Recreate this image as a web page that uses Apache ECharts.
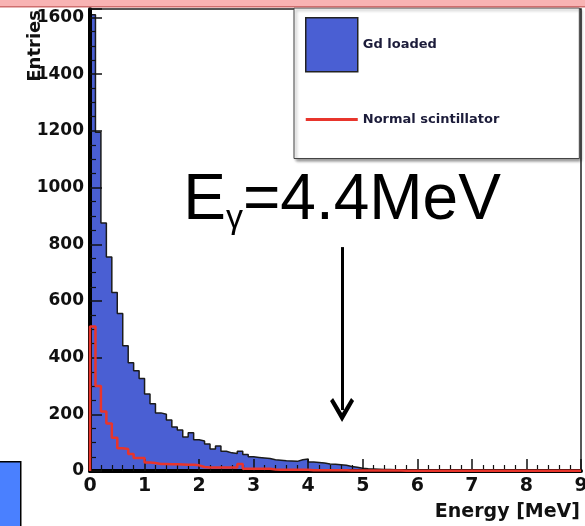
<!DOCTYPE html>
<html>
<head>
<meta charset="utf-8">
<title>Gd loaded vs normal scintillator</title>
<script src="https://cdn.jsdelivr.net/npm/echarts@6/dist/echarts.min.js"></script>
<style>
html, body { margin: 0; padding: 0; background: #fff; }
#chart { width: 585px; height: 526px; }
</style>
</head>
<body>
<div id="chart"></div>
<script>
// histogram bins, 0.1 MeV wide, starting at 0
var binWidth = 0.1;
var gdLoaded = [
    1610, 1195, 875, 755, 630, 556, 442, 382, 354, 326,
    272, 237, 205, 200, 180, 155, 145, 120, 135, 110,
    106, 95, 78, 88, 70, 64, 62, 70, 58, 50,
    48, 46, 44, 40, 38, 36, 35, 34, 40, 42,
    32, 30, 28, 25, 24, 22, 20, 16, 13, 10,
    8, 7, 6, 5, 5, 4, 4, 4, 3, 3,
    3, 3, 2, 3, 2, 2, 2, 2, 2, 1,
    2, 1, 1, 1, 2, 1, 1, 1, 1, 1,
    1, 1, 0, 1, 1, 0, 1, 0, 1, 0
];
var normalScint = [
    510, 300, 210, 168, 117, 80, 78, 60, 46, 46,
    30, 28, 25, 25, 24, 24, 23, 22, 22, 20,
    14, 12, 12, 12, 12, 12, 12, 25, 8, 8,
    8, 8, 8, 5, 4, 4, 4, 4, 4, 4,
    3, 3, 3, 3, 3, 3, 3, 2, 2, 2,
    2, 2, 2, 2, 2, 2, 2, 1, 1, 1,
    1, 1, 1, 1, 1, 1, 1, 1, 1, 1,
    1, 1, 1, 1, 1, 1, 1, 1, 1, 1,
    1, 1, 1, 1, 1, 1, 1, 1, 1, 1
];
// annotation arrow (energy in MeV, entries)
var arrowEnergy = 4.62;
var arrowFrom = 790;
var arrowTo = 215;

var blue = '#4a5fd3';
var red = '#e8352c';
var boldFont = 'DejaVu Sans';

function toSteps(vals) {
    var pts = [[0, 0]];
    for (var i = 0; i < vals.length; i++) {
        pts.push([+(i * binWidth).toFixed(2), vals[i]]);
    }
    pts.push([+(vals.length * binWidth).toFixed(2), vals[vals.length - 1]]);
    return pts;
}

var myChart = echarts.init(document.getElementById('chart'));
var option = {
    animation: false,
    grid: {
        left: 90, right: 4, top: 9, bottom: 55,
        outerBoundsMode: 'none',
        show: true, borderColor: '#222', borderWidth: 1.5
    },
    legend: {
        orient: 'vertical',
        left: 294, top: 8,
        padding: [9, 80, 12, 11],
        itemGap: 20,
        itemWidth: 52,
        itemHeight: 54,
        backgroundColor: '#fff',
        borderColor: '#444',
        borderWidth: 1,
        shadowColor: 'rgba(0,0,0,0.4)',
        shadowBlur: 3,
        shadowOffsetX: 2,
        shadowOffsetY: 2,
        z: 8,
        textStyle: {fontFamily: boldFont, fontWeight: 'bold', fontSize: 13, color: '#1c1c3a'},
        data: [
            {name: 'Gd loaded', icon: 'rect', itemStyle: {color: blue, borderColor: '#222', borderWidth: 1.5}},
            {name: 'Normal scintillator', icon: 'path://M0,0 L0.1,0 M0,25.5 L52,25.5 L52,28.5 L0,28.5 Z M51.9,54 L52,54',
                itemStyle: {color: red, borderWidth: 0}}
        ]
    },
    xAxis: {
        type: 'value', min: 0, max: 9, interval: 1, z: 5,
        axisLine: {show: true, lineStyle: {color: '#000', width: 4}},
        axisTick: {inside: true, length: 12, lineStyle: {color: '#111', width: 1.5}},
        minorTick: {show: true, splitNumber: 5, length: 6, lineStyle: {color: '#111', width: 1.2}},
        splitLine: {show: false},
        axisLabel: {fontFamily: boldFont, fontWeight: 'bold', fontSize: 19, color: '#111', margin: 6},
        name: 'Energy [MeV]',
        nameLocation: 'end',
        nameGap: -1,
        nameTextStyle: {fontFamily: boldFont, fontWeight: 'bold', fontSize: 19, color: '#111',
            align: 'right', verticalAlign: 'top', padding: [32, 0, 0, 0]}
    },
    yAxis: {
        type: 'value', min: 0, max: 1630, interval: 200, z: 5,
        axisLine: {show: true, lineStyle: {color: '#000', width: 4}},
        axisTick: {inside: true, length: 12, lineStyle: {color: '#111', width: 1.5}},
        minorTick: {show: true, splitNumber: 4, length: 6, lineStyle: {color: '#111', width: 1.2}},
        splitLine: {show: false},
        axisLabel: {
            fontFamily: boldFont, fontWeight: 'bold', fontSize: 17, color: '#111', margin: 6,
            formatter: function (v) { return v % 200 === 0 ? String(v) : ''; }
        }
    },
    series: [
        {
            name: 'Gd loaded',
            type: 'line',
            step: 'end',
            symbol: 'none',
            data: toSteps(gdLoaded),
            itemStyle: {color: blue},
            lineStyle: {color: '#1b1b1b', width: 1.5},
            areaStyle: {color: blue, opacity: 1},
            z: 2,
            markLine: {
                silent: true,
                symbol: ['none', 'path://M12,0 L24,21 L21,24 L12,9 L3,24 L0,21 Z'],
                symbolSize: [24, 24],
                lineStyle: {color: '#000', width: 3, type: 'solid'},
                label: {
                    show: true,
                    position: 'start',
                    distance: 11,
                    formatter: '{e|E}{g|γ}{e|=4.4MeV}',
                    rich: {
                        e: {fontFamily: 'Liberation Sans', fontSize: 64, color: '#000', lineHeight: 70},
                        g: {fontFamily: 'Liberation Sans', fontSize: 34, color: '#000', verticalAlign: 'bottom', padding: [36, 0, 0, 0]}
                    }
                },
                data: [[{coord: [arrowEnergy, arrowFrom]}, {coord: [arrowEnergy, arrowTo]}]]
            }
        },
        {
            name: 'Normal scintillator',
            type: 'line',
            step: 'end',
            symbol: 'none',
            data: toSteps(normalScint),
            itemStyle: {color: red},
            lineStyle: {color: red, width: 2.5},
            z: 6
        }
    ],
    graphic: [
        {type: 'text', x: 35, y: 10, rotation: Math.PI / 2, z: 50,
            style: {text: 'Entries', fill: '#111', font: 'bold 18px "DejaVu Sans"', align: 'right', verticalAlign: 'middle'}},
        {type: 'rect', left: 0, top: 0, z: 100, shape: {width: 585, height: 6}, style: {fill: '#f8b3b3'}},
        {type: 'rect', left: 0, top: 6, z: 100, shape: {width: 585, height: 1.5}, style: {fill: '#cf6e6e'}},
        {type: 'rect', left: -2, top: 461, z: 100, shape: {width: 22, height: 70}, style: {fill: '#4a80ff', stroke: '#000', lineWidth: 1.5}}
    ]
};
myChart.setOption(option);
</script>
</body>
</html>
